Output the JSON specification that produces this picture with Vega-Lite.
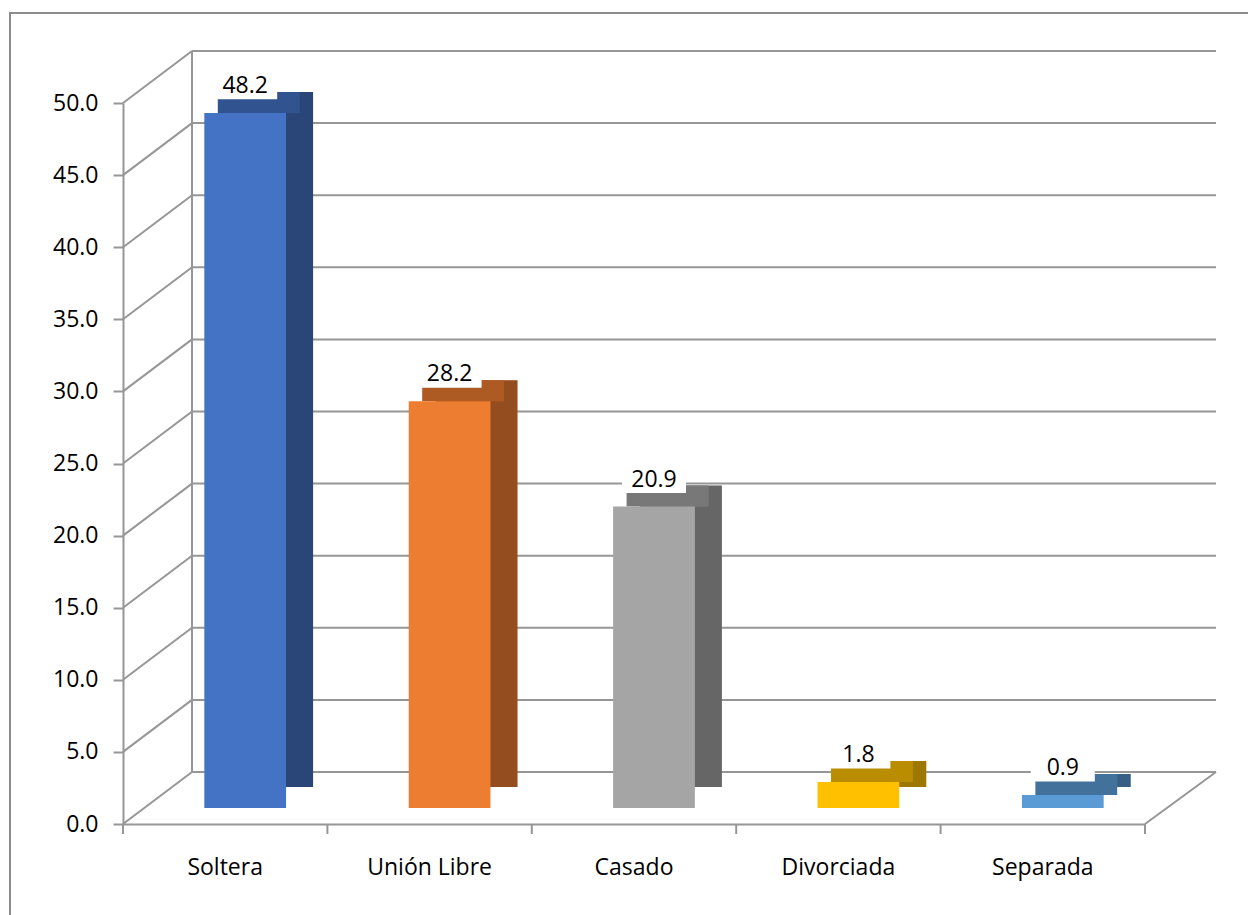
{
  "$schema": "https://vega.github.io/schema/vega-lite/v6.json",
  "width": 1242,
  "height": 906,
  "autosize": "none",
  "padding": {"left": 10, "top": 13, "right": -4, "bottom": -4},
  "background": "white",
  "data": {"values": [
    {"cat": "Soltera", "value": 48.2},
    {"cat": "Unión Libre", "value": 28.2},
    {"cat": "Casado", "value": 20.9},
    {"cat": "Divorciada", "value": 1.8},
    {"cat": "Separada", "value": 0.9}
  ]},
  "resolve": {"scale": {"x": "independent"}},
  "layer": [
    {
      "data": {"values": [{"t": 0}, {"t": 5}, {"t": 10}, {"t": 15}, {"t": 20}, {"t": 25}, {"t": 30}, {"t": 35}, {"t": 40}, {"t": 45}, {"t": 50}]},
      "mark": {"type": "rule", "color": "#969696", "strokeWidth": 2, "xOffset": 69, "x2Offset": 71, "yOffset": -52},
      "encoding": {
        "x": {"datum": 0, "type": "quantitative", "scale": {"domain": [0, 5], "range": [113, 1135]}, "axis": null},
        "x2": {"datum": 5},
        "y": {"field": "t", "type": "quantitative", "scale": {"domain": [0, 50], "range": [811, 90], "nice": false, "zero": true}, "axis": {"format": ".1f", "title": null, "tickCount": 11}}
      }
    },
    {
      "data": {"values": [{"t": 0}, {"t": 5}, {"t": 10}, {"t": 15}, {"t": 20}, {"t": 25}, {"t": 30}, {"t": 35}, {"t": 40}, {"t": 45}, {"t": 50}]},
      "mark": {"type": "rule", "color": "#969696", "strokeWidth": 2, "x2Offset": 69, "y2Offset": -52},
      "encoding": {
        "x": {"datum": 0, "type": "quantitative", "scale": {"domain": [0, 5], "range": [113, 1135]}, "axis": null},
        "x2": {"datum": 0},
        "y": {"field": "t", "type": "quantitative", "axis": {"format": ".1f", "title": null, "tickCount": 11}},
        "y2": {"field": "t"}
      }
    },
    {
      "data": {"values": [{"k": 1}]},
      "mark": {"type": "rule", "color": "#969696", "strokeWidth": 2, "xOffset": 69, "x2Offset": 69, "yOffset": -52, "y2Offset": -52},
      "encoding": {
        "x": {"datum": 0, "type": "quantitative", "scale": {"domain": [0, 5], "range": [113, 1135]}, "axis": null},
        "x2": {"datum": 0},
        "y": {"datum": 0, "type": "quantitative", "axis": {"format": ".1f", "title": null, "tickCount": 11}},
        "y2": {"datum": 50}
      }
    },
    {
      "data": {"values": [{"k": 1}]},
      "mark": {"type": "rule", "color": "#969696", "strokeWidth": 2, "x2Offset": 71, "y2Offset": -52},
      "encoding": {
        "x": {"datum": 5, "type": "quantitative", "scale": {"domain": [0, 5], "range": [113, 1135]}, "axis": null},
        "x2": {"datum": 5},
        "y": {"datum": 0, "type": "quantitative", "axis": {"format": ".1f", "title": null, "tickCount": 11}},
        "y2": {"datum": 0}
      }
    },
    {
      "data": {"values": [{"b": 0}, {"b": 1}, {"b": 2}, {"b": 3}, {"b": 4}, {"b": 5}]},
      "mark": {"type": "rule", "color": "#969696", "strokeWidth": 2, "y2Offset": 10},
      "encoding": {
        "x": {"field": "b", "type": "quantitative", "scale": {"domain": [0, 5], "range": [113, 1135]}, "axis": null},
        "y": {"datum": 0, "type": "quantitative", "axis": {"format": ".1f", "title": null, "tickCount": 11}},
        "y2": {"datum": 0}
      }
    },
    {
      "mark": {"type": "bar", "width": {"band": 0.4}, "xOffset": 47, "x2Offset": 47, "yOffset": -37, "y2Offset": -37},
      "encoding": {
        "x": {"field": "cat", "type": "nominal", "sort": null, "scale": {"domain": ["Soltera", "Unión Libre", "Casado", "Divorciada", "Separada"], "range": [113, 1135], "paddingInner": 0, "paddingOuter": 0}, "axis": null},
        "y": {"field": "value", "type": "quantitative", "axis": {"format": ".1f", "title": null, "tickCount": 11}},
        "y2": {"datum": 0},
        "color": {"field": "cat", "type": "nominal", "scale": {"domain": ["Soltera", "Unión Libre", "Casado", "Divorciada", "Separada"], "range": ["#4472C4", "#ED7D31", "#A5A5A5", "#FFC000", "#5B9BD5"]}, "legend": null}
      }
    },
    {
      "mark": {"type": "bar", "width": {"band": 0.4}, "xOffset": 47, "x2Offset": 47, "yOffset": -37, "y2Offset": -37, "color": "#000000", "opacity": 0.38},
      "encoding": {
        "x": {"field": "cat", "type": "nominal", "sort": null, "scale": {"domain": ["Soltera", "Unión Libre", "Casado", "Divorciada", "Separada"], "range": [113, 1135], "paddingInner": 0, "paddingOuter": 0}, "axis": null},
        "y": {"field": "value", "type": "quantitative", "axis": {"format": ".1f", "title": null, "tickCount": 11}},
        "y2": {"datum": 0}
      }
    },
    {
      "mark": {"type": "bar", "width": {"band": 0.4}, "xOffset": 33.5, "x2Offset": 33.5, "yOffset": -37, "y2Offset": -16},
      "encoding": {
        "x": {"field": "cat", "type": "nominal", "sort": null, "scale": {"domain": ["Soltera", "Unión Libre", "Casado", "Divorciada", "Separada"], "range": [113, 1135], "paddingInner": 0, "paddingOuter": 0}, "axis": null},
        "y": {"field": "value", "type": "quantitative", "axis": {"format": ".1f", "title": null, "tickCount": 11}},
        "y2": {"field": "value"},
        "color": {"field": "cat", "type": "nominal", "legend": null}
      }
    },
    {
      "mark": {"type": "bar", "width": {"band": 0.4}, "xOffset": 33.5, "x2Offset": 33.5, "yOffset": -37, "y2Offset": -16, "color": "#000000", "opacity": 0.27},
      "encoding": {
        "x": {"field": "cat", "type": "nominal", "sort": null, "scale": {"domain": ["Soltera", "Unión Libre", "Casado", "Divorciada", "Separada"], "range": [113, 1135], "paddingInner": 0, "paddingOuter": 0}, "axis": null},
        "y": {"field": "value", "type": "quantitative", "axis": {"format": ".1f", "title": null, "tickCount": 11}},
        "y2": {"field": "value"}
      }
    },
    {
      "mark": {"type": "bar", "width": {"band": 0.4}, "xOffset": 20, "x2Offset": 20, "yOffset": -16, "y2Offset": -16},
      "encoding": {
        "x": {"field": "cat", "type": "nominal", "sort": null, "scale": {"domain": ["Soltera", "Unión Libre", "Casado", "Divorciada", "Separada"], "range": [113, 1135], "paddingInner": 0, "paddingOuter": 0}, "axis": {"title": null, "labelAngle": 0}},
        "y": {"field": "value", "type": "quantitative", "axis": {"format": ".1f", "title": null, "tickCount": 11}},
        "y2": {"datum": 0},
        "color": {"field": "cat", "type": "nominal", "legend": null}
      }
    },
    {
      "mark": {"type": "point", "shape": "M-1,-0.45H1V0.45H-1Z", "size": 4096, "filled": true, "fill": "#ffffff", "opacity": 1, "strokeWidth": 0, "xOffset": 20, "yOffset": -44},
      "encoding": {
        "x": {"field": "cat", "type": "nominal", "sort": null, "scale": {"domain": ["Soltera", "Unión Libre", "Casado", "Divorciada", "Separada"], "range": [113, 1135], "paddingInner": 0, "paddingOuter": 0}, "axis": null},
        "y": {"field": "value", "type": "quantitative", "axis": {"format": ".1f", "title": null, "tickCount": 11}}
      }
    },
    {
      "mark": {"type": "text", "align": "center", "baseline": "alphabetic", "fontSize": 23, "font": "Open Sans", "color": "#000000", "xOffset": 20, "yOffset": -36},
      "encoding": {
        "x": {"field": "cat", "type": "nominal", "sort": null, "scale": {"domain": ["Soltera", "Unión Libre", "Casado", "Divorciada", "Separada"], "range": [113, 1135], "paddingInner": 0, "paddingOuter": 0}, "axis": null},
        "y": {"field": "value", "type": "quantitative", "axis": {"format": ".1f", "title": null, "tickCount": 11}},
        "text": {"field": "value", "type": "quantitative", "format": ".1f"}
      }
    }
  ],
  "config": {
    "font": "Open Sans",
    "view": {"stroke": "#8c8c8c", "strokeWidth": 2},
    "axis": {"grid": false, "domainColor": "#969696", "domainWidth": 2, "tickColor": "#969696", "tickWidth": 2, "labelFont": "Open Sans", "labelFontSize": 23, "labelColor": "#000000"},
    "axisLeft": {"offset": -113, "tickSize": 10, "labelPadding": 15},
    "axisBottom": {"offset": -95, "ticks": false, "labelPadding": 32}
  }
}
